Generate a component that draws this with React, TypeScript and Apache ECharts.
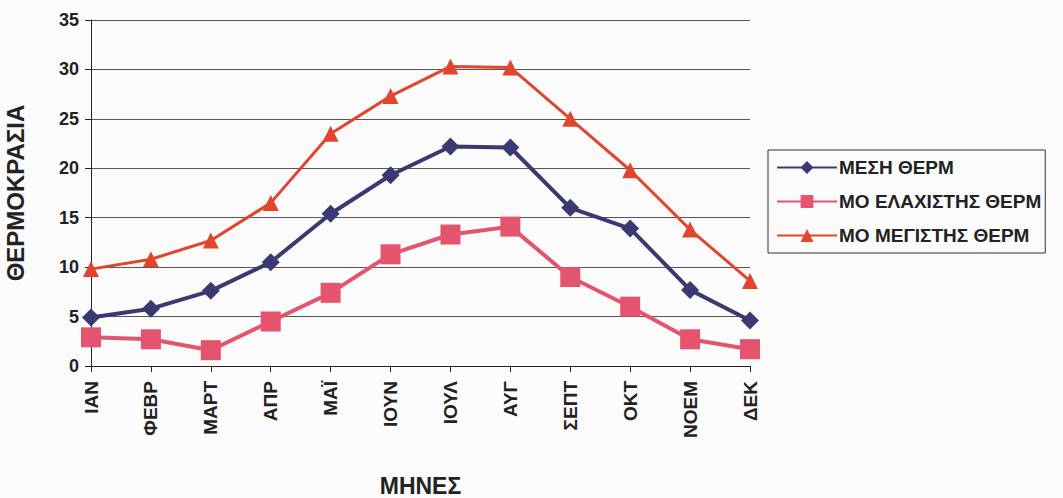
import React, { useEffect, useRef } from "react";
import * as echarts from "echarts";

const months = ["ΙΑΝ", "ΦΕΒΡ", "ΜΑΡΤ", "ΑΠΡ", "ΜΑΪ", "ΙΟΥΝ", "ΙΟΥΛ", "ΑΥΓ", "ΣΕΠΤ", "ΟΚΤ", "ΝΟΕΜ", "ΔΕΚ"];
const meanTemp = [4.9, 5.8, 7.6, 10.5, 15.4, 19.3, 22.2, 22.1, 16.0, 13.9, 7.7, 4.6];
const minTemp = [2.9, 2.7, 1.6, 4.5, 7.4, 11.3, 13.3, 14.1, 9.0, 6.0, 2.7, 1.7];
const maxTemp = [9.8, 10.8, 12.7, 16.5, 23.5, 27.3, 30.3, 30.2, 25.0, 19.8, 13.8, 8.6];
const seriesNames = ["ΜΕΣΗ ΘΕΡΜ", "ΜΟ ΕΛΑΧΙΣΤΗΣ ΘΕΡΜ", "ΜΟ ΜΕΓΙΣΤΗΣ ΘΕΡΜ"];

const FONT = "'Liberation Sans', Arial, sans-serif";

export default function App() {
  const ref = useRef<HTMLDivElement>(null);
  useEffect(() => {
    if (!ref.current) return;
    const chart = echarts.init(ref.current, null, { renderer: "svg" });
    chart.setOption({
      animation: false,
      backgroundColor: "#fbfbfb",
      textStyle: { fontFamily: FONT },
      grid: { left: 91, top: 20, right: 313, bottom: 132, containLabel: false, outerBoundsMode: "none" },
      legend: {
        orient: "vertical",
        left: 768,
        top: 150,
        itemGap: 15,
        itemWidth: 60,
        itemHeight: 16,
        padding: [8, 4, 8, 8],
        borderColor: "#333",
        borderWidth: 1,
        data: seriesNames,
        textStyle: { fontFamily: FONT, fontWeight: "bold", fontSize: 19, color: "#222", padding: [0, 0, 0, -3] },
      },
      xAxis: {
        type: "category",
        data: months,
        boundaryGap: false,
        name: "ΜΗΝΕΣ",
        nameLocation: "middle",
        nameGap: 108,
        nameTextStyle: { fontFamily: FONT, fontWeight: "bold", fontSize: 23, color: "#222" },
        axisLine: { lineStyle: { color: "#222", width: 1 } },
        axisTick: { show: true, alignWithLabel: true, length: 6, lineStyle: { color: "#222" } },
        axisLabel: {
          rotate: 90,
          margin: 15,
          fontFamily: FONT,
          fontWeight: "bold",
          fontSize: 19,
          color: "#222",
          interval: 0,
        },
        splitLine: { show: false },
      },
      yAxis: {
        type: "value",
        min: 0,
        max: 35,
        interval: 5,
        name: "ΘΕΡΜΟΚΡΑΣΙΑ",
        nameLocation: "middle",
        nameGap: 64,
        nameTextStyle: { fontFamily: FONT, fontWeight: "bold", fontSize: 24, color: "#222" },
        axisLine: { show: true, lineStyle: { color: "#222", width: 1 } },
        axisTick: { show: true, length: 6, lineStyle: { color: "#222" } },
        axisLabel: { fontFamily: FONT, fontWeight: "bold", fontSize: 18, color: "#222", margin: 12 },
        splitLine: { show: true, lineStyle: { color: "#555", width: 1 } },
      },
      series: [
        {
          name: seriesNames[0],
          type: "line",
          data: meanTemp,
          symbol: "diamond",
          symbolSize: 18,
          color: "#3a3a72",
          lineStyle: { width: 4, color: "#3a3a72" },
          itemStyle: { color: "#3a3a72" },
        },
        {
          name: seriesNames[1],
          type: "line",
          data: minTemp,
          symbol: "rect",
          symbolSize: 20,
          color: "#e4546f",
          lineStyle: { width: 4, color: "#e4546f" },
          itemStyle: { color: "#e4546f" },
        },
        {
          name: seriesNames[2],
          type: "line",
          data: maxTemp,
          symbol: "triangle",
          symbolSize: 16,
          color: "#e2452e",
          lineStyle: { width: 3, color: "#e2452e" },
          itemStyle: { color: "#e2452e" },
        },
      ],
    });
    return () => chart.dispose();
  }, []);
  return <div ref={ref} style={{ width: 1063, height: 498, position: "absolute", left: 0, top: 0 }} />;
}
